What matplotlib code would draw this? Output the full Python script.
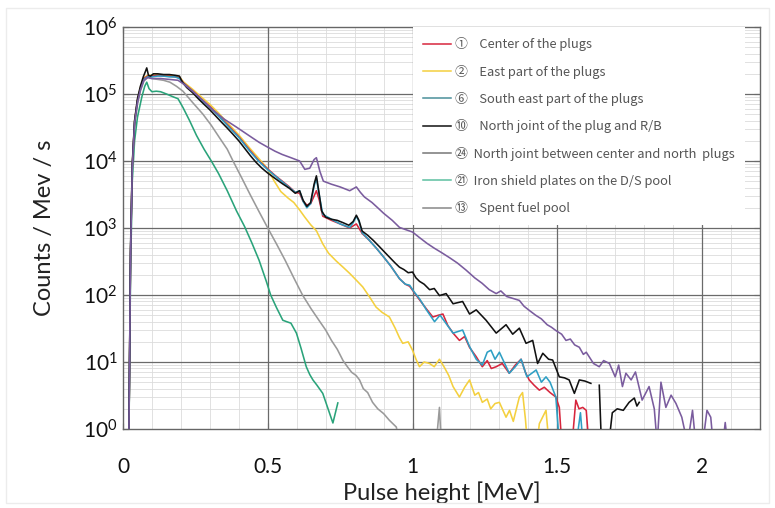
import numpy as np
import matplotlib
matplotlib.use("Agg")
import matplotlib.pyplot as plt
from matplotlib.lines import Line2D
from matplotlib.patches import Rectangle

plt.rcParams['font.family'] = ['Lato', 'DejaVu Sans']
plt.rcParams['mathtext.default'] = 'regular'

nan = np.nan

# (1) Center of the plugs
x_c1 = [0.020, 0.026, 0.032, 0.040, 0.050, 0.060, 0.072, 0.085, 0.100, 0.120, 0.140, 0.160, 0.180, 0.195,
        0.210, 0.240, 0.276, 0.300, 0.330, 0.369, 0.400, 0.438, 0.470, 0.500, 0.525, 0.550, 0.575, 0.595,
        0.610, 0.622, 0.635, 0.648, 0.660, 0.668, 0.678, 0.690, 0.720, 0.750, 0.783, 0.806, 0.826, 0.850,
        0.875, 0.900, 0.925, 0.955, 0.975, 0.990, 1.005, 1.024, 1.048, 1.070, 1.090, 1.105, 1.122, 1.140,
        1.162, 1.180, 1.197, 1.220, 1.241, 1.258, 1.272, 1.289, 1.310, 1.334, 1.355, 1.375, 1.390, 1.403,
        1.420, 1.438, 1.455, 1.475, 1.495, 1.507, 1.520, 1.545, 1.564, 1.575, 1.588, 1.600, 1.612]
y_c1 = [0.5, 400, 8000, 3.8e4, 8.0e4, 1.2e5, 1.7e5, 1.85e5, 1.85e5, 1.9e5, 1.85e5, 1.85e5, 1.8e5, 1.75e5,
        1.45e5, 1.12e5, 8.0e4, 6.5e4, 4.8e4, 3.2e4, 2.3e4, 1.45e4, 1.0e4, 7.6e3, 6.1e3, 5.0e3, 4.1e3, 3.4e3,
        3.3e3, 2.5e3, 2.2e3, 2.3e3, 3.0e3, 3.6e3, 2.6e3, 1.5e3, 1.3e3, 1.15e3, 1.0e3, 1.15e3, 8.3e2, 6.6e2,
        5.0e2, 3.7e2, 2.7e2, 1.75e2, 1.45e2, 1.35e2, 1.1e2, 85, 62, 47, 50, 52, 35, 27,
        21, 24, 16.5, 12, 8.5, 10.5, 8, 8.5, 9.5, 6.8, 9, 11, 7, 5.4,
        4.5, 3.8, 4.2, 3.5, 3.0, 2.1, 0.3, 0.3, 2.7, 2.0, 2.1, 1.9, 0.4]

# (2) East part of the plugs
x_c2 = [0.020, 0.026, 0.032, 0.040, 0.050, 0.060, 0.072, 0.085, 0.100, 0.120, 0.140, 0.160, 0.180, 0.195,
        0.210, 0.240, 0.276, 0.300, 0.330, 0.369, 0.400, 0.438, 0.470, 0.500, 0.520, 0.545, 0.570, 0.590,
        0.610, 0.628, 0.648, 0.668, 0.690, 0.710, 0.737, 0.760, 0.783, 0.806, 0.828, 0.852, 0.874, 0.895,
        0.920, 0.940, 0.955, 0.966, 0.985, 1.000, 1.012, 1.024, 1.040, 1.059, 1.075, 1.093, 1.110, 1.125,
        1.140, 1.162, 1.180, 1.197, 1.215, 1.228, 1.241, 1.258, 1.270, 1.285, 1.300, 1.323, 1.335, 1.348,
        1.369, 1.380, 1.390, 1.400, 1.425, 1.438, 1.461, 1.475]
y_c2 = [0.5, 400, 8500, 3.9e4, 8.0e4, 1.25e5, 1.75e5, 1.9e5, 1.9e5, 1.95e5, 1.9e5, 1.9e5, 1.85e5, 1.8e5,
        1.5e5, 1.18e5, 8.6e4, 7.0e4, 5.2e4, 3.4e4, 2.45e4, 1.55e4, 1.08e4, 7.6e3, 5.2e3, 3.5e3, 2.8e3, 2.4e3,
        1.86e3, 1.45e3, 1.12e3, 9.1e2, 5.8e2, 4.2e2, 3.2e2, 2.6e2, 2.1e2, 1.66e2, 1.32e2, 93, 66, 55,
        47, 32, 23, 19, 20, 15, 11, 8.5, 10, 9.5, 8.5, 11, 8.3, 6.3,
        4.3, 3.0, 4.2, 5.4, 3.2, 3.5, 2.5, 2.8, 2.0, 2.4, 2.5, 1.5, 1.9, 1.3,
        3.0, 3.5, 1.4, 0.4, 0.4, 1.2, 1.9, 0.4]

# (6) South east part of the plugs
x_c6 = [0.020, 0.026, 0.032, 0.040, 0.050, 0.060, 0.072, 0.085, 0.100, 0.120, 0.140, 0.160, 0.180, 0.195,
        0.210, 0.240, 0.276, 0.300, 0.330, 0.369, 0.400, 0.438, 0.470, 0.500, 0.525, 0.550, 0.575, 0.595,
        0.610, 0.622, 0.635, 0.648, 0.660, 0.668, 0.676, 0.690, 0.720, 0.750, 0.783, 0.795, 0.806, 0.815,
        0.826, 0.850, 0.875, 0.900, 0.925, 0.955, 0.975, 0.990, 1.005, 1.024, 1.048, 1.076, 1.095, 1.115,
        1.140, 1.173, 1.197, 1.220, 1.241, 1.258, 1.271, 1.285, 1.300, 1.334, 1.355, 1.375, 1.395, 1.427,
        1.445, 1.461, 1.475, 1.495, 1.510, 1.560, 1.580, 1.592]
y_c6 = [0.5, 420, 8200, 3.8e4, 7.8e4, 1.2e5, 1.65e5, 1.8e5, 1.8e5, 1.85e5, 1.85e5, 1.8e5, 1.8e5, 1.7e5,
        1.42e5, 1.1e5, 7.8e4, 6.3e4, 4.7e4, 3.1e4, 2.25e4, 1.4e4, 9.8e3, 7.4e3, 6.0e3, 4.9e3, 4.0e3, 3.4e3,
        3.6e3, 2.5e3, 2.0e3, 2.3e3, 4.2e3, 5.6e3, 3.4e3, 1.6e3, 1.35e3, 1.15e3, 1.02e3, 1.2e3, 1.5e3, 1.25e3,
        8.5e2, 6.6e2, 5.0e2, 3.7e2, 2.7e2, 1.75e2, 1.45e2, 1.4e2, 1.12e2, 88, 60, 40, 50, 38,
        27, 30, 17, 11, 9, 14, 15, 11, 14, 6.8, 8.5, 11, 6, 7.6,
        5, 6.0, 5.0, 3.0, 0.4, 0.4, 1.75, 0.4]

# (10) North joint of the plug and R/B
x_c10 = [0.020, 0.026, 0.032, 0.040, 0.050, 0.060, 0.070, 0.078, 0.082, 0.088, 0.095, 0.105, 0.120, 0.140,
         0.160, 0.180, 0.195, 0.205, 0.220, 0.240, 0.260, 0.280, 0.300, 0.320, 0.340, 0.360, 0.380, 0.400,
         0.420, 0.440, 0.460, 0.480, 0.500, 0.525, 0.550, 0.575, 0.595, 0.610, 0.622, 0.635, 0.648, 0.660,
         0.668, 0.676, 0.686, 0.700, 0.720, 0.740, 0.760, 0.780, 0.795, 0.806, 0.815, 0.826, 0.845, 0.865,
         0.885, 0.905, 0.925, 0.940, 0.955, 0.970, 0.985, 1.000, 1.012, 1.024, 1.040, 1.059, 1.075, 1.093,
         1.116, 1.140, 1.173, 1.197, 1.220, 1.254, 1.289, 1.323, 1.346, 1.369, 1.392, 1.415, 1.432, 1.450,
         1.470, 1.484, 1.507, 1.525, 1.541, 1.559, 1.576, 1.595, 1.616, 1.630, 1.645, 1.655, 1.670, 1.690,
         1.707, 1.728, 1.748, 1.766, 1.775, 1.783]
y_c10 = [0.5, 500, 9000, 4.0e4, 8.5e4, 1.3e5, 1.8e5, 2.2e5, 2.45e5, 1.9e5, 1.85e5, 2.0e5, 2.0e5, 1.95e5,
         1.95e5, 1.9e5, 1.85e5, 1.5e5, 1.25e5, 1.05e5, 8.5e4, 7.0e4, 5.8e4, 4.7e4, 3.8e4, 3.1e4, 2.5e4, 2.0e4,
         1.55e4, 1.2e4, 9.5e3, 7.8e3, 6.6e3, 5.5e3, 4.6e3, 3.9e3, 3.3e3, 3.6e3, 2.6e3, 2.1e3, 2.4e3, 4.5e3,
         6.0e3, 3.6e3, 1.8e3, 1.45e3, 1.35e3, 1.3e3, 1.2e3, 1.1e3, 1.25e3, 1.55e3, 1.3e3, 9.0e2, 7.8e2, 6.5e2,
         5.3e2, 4.3e2, 3.5e2, 3.0e2, 2.6e2, 2.4e2, 2.15e2, 2.2e2, 1.8e2, 1.6e2, 1.45e2, 1.2e2, 1.25e2, 98,
         105, 74, 80, 52, 60, 42, 27, 36, 26, 32, 19, 21, 9.5, 13.5,
         11, 10.7, 6.0, 5.8, 5.4, 3.4, 5.4, 5.2, 4.8, nan, 4.5, 0.3, 0.3, 1.75,
         2.0, 1.9, 2.5, 2.9, 2.2, 2.5]

# (24) North joint between center and north plugs
x_c24 = [0.020, 0.026, 0.032, 0.040, 0.050, 0.060, 0.072, 0.085, 0.100, 0.130, 0.160, 0.190, 0.210, 0.240,
         0.276, 0.310, 0.350, 0.392, 0.438, 0.470, 0.495, 0.525, 0.550, 0.580, 0.610, 0.628, 0.645, 0.660,
         0.668, 0.680, 0.692, 0.720, 0.750, 0.783, 0.806, 0.820, 0.834, 0.860, 0.880, 0.900, 0.930, 0.955,
         0.975, 1.000, 1.024, 1.050, 1.075, 1.100, 1.128, 1.155, 1.185, 1.215, 1.240, 1.265, 1.289, 1.305,
         1.325, 1.350, 1.369, 1.385, 1.403, 1.425, 1.445, 1.465, 1.480, 1.495, 1.515, 1.530, 1.545, 1.560,
         1.576, 1.590, 1.600, 1.610, 1.625, 1.645, 1.660, 1.680, 1.700, 1.712, 1.725, 1.737, 1.755, 1.770,
         1.793, 1.817, 1.835, 1.845, 1.858, 1.875, 1.893, 1.910, 1.930, 1.950, 1.967, 1.980, 2.000, 2.017,
         2.030, 2.040, 2.070, 2.080, 2.090]
y_c24 = [0.5, 400, 8000, 3.7e4, 7.5e4, 1.15e5, 1.6e5, 1.75e5, 1.7e5, 1.7e5, 1.65e5, 1.6e5, 1.4e5, 1.1e5,
         8.0e4, 5.8e4, 4.2e4, 3.2e4, 2.35e4, 1.9e4, 1.65e4, 1.4e4, 1.25e4, 1.12e4, 1.0e4, 7.5e3, 7.8e3, 1.05e4,
         1.12e4, 7.0e3, 5.0e3, 4.5e3, 4.1e3, 3.6e3, 4.1e3, 3.4e3, 2.9e3, 2.4e3, 2.0e3, 1.66e3, 1.3e3, 1.02e3,
         9.5e2, 8.7e2, 7.2e2, 5.9e2, 5.0e2, 4.3e2, 3.6e2, 3.0e2, 2.35e2, 1.8e2, 1.5e2, 1.2e2, 1.05e2, 1.15e2,
         95, 88, 83, 68, 59, 50, 44, 36, 33, 29.5, 26, 21, 22, 18,
         16.6, 13, 14, 12, 9.5, 8.5, 10.5, 9.5, 6, 9, 4.3, 6.8, 5.4, 7.1,
         2.7, 4.3, 2.0, 0.6, 5.0, 2.1, 3.2, 2.4, 1.5, 0.6, 1.9, 0.5, 0.5, 1.9,
         1.5, 0.5, 0.5, 1.25, 0.5]

# (21) Iron shield plates on the D/S pool
x_c21 = [0.020, 0.026, 0.032, 0.040, 0.050, 0.065, 0.075, 0.082, 0.090, 0.100, 0.115, 0.130, 0.150, 0.175,
         0.190, 0.207, 0.230, 0.254, 0.280, 0.305, 0.330, 0.360, 0.392, 0.420, 0.445, 0.470, 0.495, 0.510,
         0.530, 0.552, 0.565, 0.580, 0.599, 0.615, 0.633, 0.645, 0.656, 0.670, 0.690, 0.705, 0.725, 0.742]
y_c21 = [0.5, 200, 5000, 2.0e4, 4.5e4, 9.0e4, 1.3e5, 1.5e5, 1.2e5, 1.08e5, 1.1e5, 1.08e5, 1.0e5, 9.0e4,
         8.5e4, 6.3e4, 4.0e4, 2.4e4, 1.5e4, 1.0e4, 6.5e3, 3.6e3, 1.8e3, 1.05e3, 6.0e2, 3.3e2, 1.6e2, 1.0e2,
         65, 42, 40, 38, 27, 16, 8.5, 6.5, 5.4, 4.5, 3.4, 2.2, 1.23, 2.45]

# (13) Spent fuel pool
x_c13 = [0.020, 0.026, 0.032, 0.040, 0.050, 0.060, 0.072, 0.086, 0.100, 0.120, 0.140, 0.162, 0.185, 0.207,
         0.240, 0.276, 0.305, 0.334, 0.360, 0.380, 0.410, 0.440, 0.470, 0.500, 0.530, 0.560, 0.590, 0.620,
         0.650, 0.680, 0.700, 0.720, 0.740, 0.760, 0.775, 0.790, 0.805, 0.817, 0.830, 0.845, 0.862, 0.880,
         0.900, 0.920, 0.944, 0.960, 1.080, 1.093, 1.100]
y_c13 = [0.5, 300, 7000, 3.3e4, 7.0e4, 1.1e5, 1.55e5, 1.8e5, 1.7e5, 1.65e5, 1.6e5, 1.5e5, 1.3e5, 1.1e5,
         7.5e4, 5.0e4, 3.4e4, 2.2e4, 1.5e4, 1.0e4, 5.6e3, 3.1e3, 1.75e3, 1.0e3, 5.8e2, 3.3e2, 1.8e2, 1.0e2,
         62, 40, 30, 21, 15.5, 10.5, 8.5, 7.0, 6.3, 5.4, 4.0, 3.5, 2.5, 2.0,
         1.7, 1.35, 1.07, 0.5, 0.5, 2.1, 0.5]

x_major = [0, 0.5, 1, 1.5, 2]
x_labels = ["0", "0.5", "1", "1.5", "2"]
y_major = [1, 10, 100, 1e3, 1e4, 1e5, 1e6]

series = [
    (x_c1, y_c1, "#d7263d", "\u2460    Center of the plugs"),
    (x_c2, y_c2, "#f4d03f", "\u2461    East part of the plugs"),
    (x_c6, y_c6, "#2e9fc4", "\u2465    South east part of the plugs"),
    (x_c10, y_c10, "#111111", "\u2469    North joint of the plug and R/B"),
    (x_c24, y_c24, "#7a5c9e", "\u3254  North joint between center and north  plugs"),
    (x_c21, y_c21, "#2aa37a", "\u3251  Iron shield plates on the D/S pool"),
    (x_c13, y_c13, "#9a9a9a", "\u246c    Spent fuel pool"),
]
legend_colors = ["#d7263d", "#f4d03f", "#4a8f9a", "#111111", "#777777", "#5cc0a0", "#888888"]
zorders = [4, 3, 4, 5, 6, 3, 3]

fig = plt.figure(figsize=(7.75, 5.08), dpi=100)
ax = fig.add_axes([0.1587, 0.1555, 0.8219, 0.7914])
fig.patches.append(Rectangle((0.008, 0.01), 0.984, 0.975, transform=fig.transFigure,
                             fill=False, edgecolor="#ececec", linewidth=1.0))

for (xs, ys, col, lab), z in zip(series, zorders):
    ax.plot(xs, ys, color=col, lw=1.15, zorder=z)

ax.set_yscale("log")
ax.set_xlim(0, 2.2)
ax.set_ylim(1, 1e6)
ax.set_xticks(x_major)
ax.set_xticklabels(x_labels)
ax.set_xticks(np.arange(0, 2.21, 0.1), minor=True)
ax.set_yticks(y_major)
ax.yaxis.set_minor_locator(matplotlib.ticker.LogLocator(base=10, subs=np.arange(2, 10), numticks=20))
ax.yaxis.set_minor_formatter(matplotlib.ticker.NullFormatter())

# light minor grid, dark major grid drawn on top of it
ax.grid(which="minor", color="#dcdcdc", lw=0.6)
ax.set_axisbelow(True)
for xv in x_major[1:]:
    ax.axvline(xv, color="#6a6a6a", lw=0.9, zorder=1)
for yv in y_major[1:-1]:
    ax.axhline(yv, color="#6a6a6a", lw=0.9, zorder=1)

ax.tick_params(which="major", direction="in", length=4, width=0.8, color="#555555",
               top=True, right=True, labelsize=15, labelcolor="#111111")
ax.tick_params(axis="x", which="major", pad=20)
ax.tick_params(axis="y", which="major", pad=4)
ax.tick_params(which="minor", length=0)
for sp in ax.spines.values():
    sp.set_color("#666666")
    sp.set_linewidth(1.0)

ax.set_xlabel("Pulse height [MeV]", fontsize=17, color="#222222", labelpad=3)
ax.set_ylabel("Counts / Mev / s", fontsize=17, color="#222222", labelpad=20)

handles = [Line2D([0], [0], color=c, lw=1.1) for c in legend_colors]
labels = [s[3] for s in series]
leg = ax.legend(handles, labels, loc="upper left", bbox_to_anchor=(1.0 / 2.2, 1.0),
                borderaxespad=0, borderpad=0.8, handlelength=2.2, handletextpad=0.3,
                labelspacing=1.03, frameon=True, fancybox=False, framealpha=1,
                prop={"family": ["Noto Sans CJK KR", "DejaVu Sans"], "size": 9.3})
leg.get_frame().set_edgecolor("none")
leg.get_frame().set_facecolor("white")
leg.set_zorder(10)
for t in leg.get_texts():
    t.set_color("#555555")

fig.savefig("out.png", dpi=100)
